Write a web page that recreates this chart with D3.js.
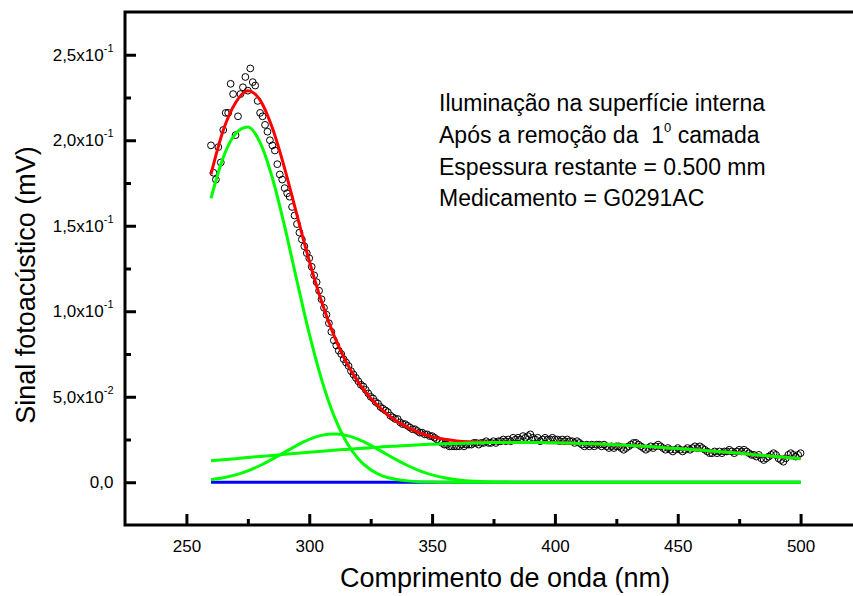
<!DOCTYPE html>
<html>
<head>
<meta charset="utf-8">
<script src="https://cdn.jsdelivr.net/npm/d3@7"></script>
<style>
  body { margin: 0; background: #fff; }
  text { font-family: "Liberation Sans", Arial, sans-serif; fill: #000; }
</style>
</head>
<body>
<svg id="chart" width="853" height="596"></svg>
<script>
  // measured photoacoustic signal, one point per nm from 260 to 500
  const signalNm = d3.range(260, 501);
  const signal = [
    0.197,0.181,0.177,0.196,0.187,0.206,0.216,0.216,0.233,0.227,
    0.203,0.214,0.227,0.231,0.237,0.229,0.242,0.234,0.232,0.223,
    0.216,0.214,0.209,0.205,0.200,0.197,0.194,0.186,0.180,0.177,
    0.172,0.169,0.167,0.161,0.156,0.151,0.146,0.142,0.138,0.134,
    0.131,0.126,0.121,0.117,0.112,0.107,0.102,0.098,0.093,0.088,
    0.083,0.080,0.077,0.075,0.072,0.070,0.068,0.065,0.063,0.061,
    0.059,0.057,0.056,0.054,0.052,0.050,0.049,0.047,0.046,0.044,
    0.043,0.042,0.041,0.039,0.038,0.037,0.037,0.035,0.034,0.034,
    0.033,0.032,0.031,0.031,0.030,0.029,0.029,0.028,0.028,0.027,
    0.027,0.026,0.025,0.024,0.023,0.022,0.022,0.021,0.021,0.021,
    0.021,0.021,0.022,0.021,0.022,0.022,
    0.022,0.023,0.023,0.022,
    0.023,0.023,0.024,0.023,0.023,0.024,0.023,0.024,0.024,0.025,
    0.024,0.025,0.024,0.026,0.025,0.026,0.025,0.027,0.026,0.027,
    0.028,0.026,0.025,0.026,0.024,0.025,0.026,0.025,0.025,0.026,
    0.025,0.025,0.024,0.025,0.024,0.025,0.024,0.024,0.023,0.024,
    0.023,0.022,0.021,0.022,0.021,0.022,0.021,0.022,0.022,0.021,
    0.022,0.021,0.020,0.021,0.020,0.021,0.021,0.020,0.019,0.020,
    0.021,0.022,0.023,0.023,0.022,0.021,0.020,0.019,0.020,0.021,
    0.020,0.021,0.022,0.021,0.020,0.019,0.020,0.019,0.018,0.019,
    0.020,0.019,0.018,0.019,0.020,0.019,0.020,0.021,0.020,0.021,
    0.020,0.019,0.018,0.017,0.017,0.018,0.017,0.018,0.017,0.018,
    0.018,0.019,0.018,0.017,0.018,0.019,0.018,0.019,0.018,0.017,
    0.016,0.016,0.015,0.016,0.014,0.013,0.014,0.015,0.016,0.017,
    0.016,0.014,0.013,0.012,0.014,0.016,0.017,0.016,0.015,0.016,
    0.017
  ];

  // fitted curves, read every 5 nm
  const fitNm = d3.range(260, 501, 5);
  const fitTotal = [
    0.1801,0.2058,0.2219,0.2289,0.2235,0.2071,0.1834,0.1562,0.1295,0.1057,
    0.0860,0.0704,0.0584,0.0491,0.0419,0.0363,0.0321,0.0289,0.0266,0.0251,
    0.0242,0.0237,0.0235,0.0234,0.0234,0.0233,0.0233,0.0232,0.0231,0.0229,
    0.0227,0.0225,0.0222,0.0219,0.0215,0.0211,0.0207,0.0202,0.0197,0.0192,
    0.0187,0.0181,0.0175,0.0169,0.0163,0.0157,0.0151,0.0145,0.0138
  ];
  const peak1 = [
    0.1660,0.1900,0.2038,0.2077,0.1986,0.1779,0.1495,0.1177,0.0869,0.0602,
    0.0391,0.0238,0.0136,0.0073,0.0036,0.0017,0.0008,0.0003,0.0001,0,
    0,0,0,0,0,0,0,0,0,0,
    0,0,0,0,0,0,0,0,0,0,
    0,0,0,0,0,0,0,0,0
  ];
  const peak2 = [
    0.0015,0.0026,0.0043,0.0067,0.0098,0.0135,0.0176,0.0216,0.0251,0.0274,
    0.0282,0.0274,0.0251,0.0216,0.0176,0.0135,0.0098,0.0067,0.0043,0.0026,
    0.0015,0.0008,0.0004,0.0002,0.0001,0,0,0,0,0,
    0,0,0,0,0,0,0,0,0,0,
    0,0,0,0,0,0,0,0,0
  ];
  const peak3 = [
    0.0126,0.0132,0.0138,0.0145,0.0151,0.0157,0.0163,0.0169,0.0175,0.0181,
    0.0187,0.0192,0.0197,0.0202,0.0207,0.0211,0.0215,0.0219,0.0222,0.0225,
    0.0227,0.0229,0.0231,0.0232,0.0233,0.0233,0.0233,0.0232,0.0231,0.0229,
    0.0227,0.0225,0.0222,0.0219,0.0215,0.0211,0.0207,0.0202,0.0197,0.0192,
    0.0187,0.0181,0.0175,0.0169,0.0163,0.0157,0.0151,0.0145,0.0138
  ];
  const baselineNm = [260, 500];
  const baseline = [0, 0];

  const xTicks = [250, 300, 350, 400, 450, 500];
  const xMinor = [275, 325, 375, 425, 475];
  const yTicks = [0, 0.05, 0.10, 0.15, 0.20, 0.25];
  const yMinor = [0.025, 0.075, 0.125, 0.175, 0.225];
  const yTickMant = ["0,0", "5,0x10", "1,0x10", "1,5x10", "2,0x10", "2,5x10"];
  const yTickExp = ["", "-2", "-1", "-1", "-1", "-1"];

  const notes = [
    ["Iluminação na superfície interna"],
    ["Após a remoção da  1", "0", " camada"],
    ["Espessura restante = 0.500 mm"],
    ["Medicamento = G0291AC"]
  ];

  const svg = d3.select("#chart");
  const x = d3.scaleLinear().domain([225, 525]).range([125, 862]);
  const y = d3.scaleLinear().domain([-0.025, 0.275]).range([525, 12]);

  // ticks (pointing into the plot)
  const tickStyle = g => {
    g.select(".domain").remove();
    g.selectAll(".tick line").attr("stroke", "#000").attr("stroke-width", 3);
  };
  svg.append("g").attr("transform", "translate(0,525)")
    .call(d3.axisBottom(x).tickValues(xTicks).tickSizeInner(-11).tickSizeOuter(0)
      .tickPadding(15).tickFormat(d3.format("d")))
    .call(tickStyle)
    .selectAll("text").attr("font-size", 17).attr("font-family", null);
  svg.append("g").attr("transform", "translate(0,525)")
    .call(d3.axisBottom(x).tickValues(xMinor).tickSizeInner(-6).tickSizeOuter(0).tickFormat(""))
    .call(tickStyle);
  svg.append("g").attr("transform", "translate(125,0)")
    .call(d3.axisLeft(y).tickValues(yTicks).tickSizeInner(-11).tickSizeOuter(0).tickFormat(""))
    .call(tickStyle);
  svg.append("g").attr("transform", "translate(125,0)")
    .call(d3.axisLeft(y).tickValues(yMinor).tickSizeInner(-6).tickSizeOuter(0).tickFormat(""))
    .call(tickStyle);

  // y labels with powers of ten
  const yl = svg.append("g").selectAll("text").data(yTicks).join("text")
    .attr("x", 113.5).attr("y", d => y(d) + 6)
    .attr("text-anchor", "end").attr("font-size", 17);
  yl.append("tspan").text((d, i) => yTickMant[i]);
  yl.append("tspan").attr("font-size", 11).attr("dy", -9).text((d, i) => yTickExp[i]);

  // frame
  svg.append("rect")
    .attr("x", x(225)).attr("y", y(0.275))
    .attr("width", x(525) - x(225)).attr("height", y(-0.025) - y(0.275))
    .attr("fill", "none").attr("stroke", "#000").attr("stroke-width", 3);

  const line = (xs, ys) => d3.line()
    .x((d, i) => x(xs[i])).y(d => y(d))
    .curve(d3.curveMonotoneX)(ys);

  svg.append("path").attr("d", line(baselineNm, baseline))
    .attr("fill", "none").attr("stroke", "#0000ff").attr("stroke-width", 3);

  svg.append("g").selectAll("circle").data(signal).join("circle")
    .attr("cx", (d, i) => x(signalNm[i])).attr("cy", d => y(d)).attr("r", 3.4)
    .attr("fill", "none").attr("stroke", "#000").attr("stroke-width", 1);

  svg.append("path").attr("d", line(fitNm, fitTotal))
    .attr("fill", "none").attr("stroke", "#ff0000").attr("stroke-width", 3);

  [peak1, peak2, peak3].forEach(p => {
    svg.append("path").attr("d", line(fitNm, p))
      .attr("fill", "none").attr("stroke", "#00ff00").attr("stroke-width", 3);
  });

  // axis titles
  svg.append("text").attr("x", 505).attr("y", 587)
    .attr("text-anchor", "middle").attr("font-size", 27)
    .text("Comprimento de onda (nm)");
  svg.append("text").attr("transform", "translate(35,285) rotate(-90)")
    .attr("text-anchor", "middle").attr("font-size", 27)
    .text("Sinal fotoacústico (mV)");

  // annotation
  const noteY = [111, 143, 175, 206];
  notes.forEach((parts, i) => {
    const t = svg.append("text").attr("x", 439).attr("y", noteY[i])
      .attr("font-size", 23).style("white-space", "pre");
    parts.forEach((s, j) => {
      const ts = t.append("tspan").text(s);
      if (parts.length > 1 && j === 1) ts.attr("font-size", 13).attr("dy", -11);
      if (parts.length > 1 && j === 2) ts.attr("dy", 11);
    });
  });
</script>
</body>
</html>
